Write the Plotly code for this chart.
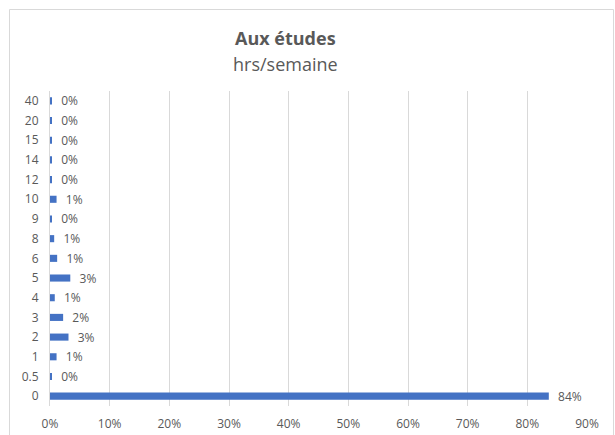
import plotly.graph_objects as go

# Hours per week spent on studies and share of respondents
hours = ["0", "0.5", "1", "2", "3", "4", "5", "6", "8", "9", "10", "12", "14", "15", "20", "40"]
share = [0.836, 0.002, 0.011, 0.031, 0.022, 0.008, 0.034, 0.012, 0.007, 0.002, 0.011, 0.002, 0.002, 0.002, 0.002, 0.002]

x_ticks = [i / 10 for i in range(10)]
x_tick_text = [f"{i * 10}%" for i in range(10)]

W, H = 615, 435
ML, MR, MT, MB = 50, 28, 91, 29
PW, PH = W - ML - MR, H - MT - MB


def px_x(p):
    return (p - ML) / PW


def px_y(p):
    return (H - MB - p) / PH


fig = go.Figure(
    go.Bar(
        x=share,
        y=hours,
        orientation="h",
        marker=dict(color="#4472C4", line=dict(width=0)),
        text=share,
        texttemplate="\u00a0\u00a0%{x:.0%}",
        textposition="outside",
        constraintext="none",
        textfont=dict(size=12, color="#595959"),
        cliponaxis=False,
    )
)

fig.update_layout(
    width=W,
    height=H,
    margin=dict(l=ML, r=MR, t=MT, b=MB, autoexpand=False),
    paper_bgcolor="white",
    plot_bgcolor="white",
    font=dict(family="Open Sans, Liberation Sans, sans-serif", color="#595959", size=12),
    bargap=0.64,
    showlegend=False,
    uniformtext=dict(minsize=12, mode="show"),
    xaxis=dict(
        range=[0, 0.9],
        tickvals=x_ticks,
        ticktext=x_tick_text,
        showgrid=True,
        gridcolor="#d9d9d9",
        gridwidth=1,
        zeroline=False,
        showline=False,
        ticks="",
        ticklabelstandoff=9,
        automargin=False,
        tickfont=dict(size=12, color="#595959"),
        fixedrange=True,
    ),
    yaxis=dict(
        type="category",
        categoryorder="array",
        categoryarray=hours,
        showgrid=False,
        zeroline=False,
        showline=True,
        linecolor="#d9d9d9",
        linewidth=1,
        ticks="",
        ticklabelstandoff=8,
        automargin=False,
        tickfont=dict(size=12, color="#595959"),
        fixedrange=True,
    ),
    shapes=[
        dict(
            type="rect",
            xref="paper",
            yref="paper",
            x0=px_x(9.5),
            x1=px_x(613.5),
            y0=px_y(440),
            y1=px_y(9.5),
            line=dict(color="#d9d9d9", width=1),
            fillcolor="rgba(0,0,0,0)",
            layer="below",
        )
    ],
    annotations=[
        dict(
            text="<b>Aux études</b>",
            xref="paper",
            yref="paper",
            x=px_x(285),
            y=px_y(38),
            xanchor="center",
            yanchor="middle",
            showarrow=False,
            font=dict(size=18, color="#595959"),
        ),
        dict(
            text="hrs/semaine",
            xref="paper",
            yref="paper",
            x=px_x(285),
            y=px_y(64),
            xanchor="center",
            yanchor="middle",
            showarrow=False,
            font=dict(size=18, color="#595959"),
        ),
    ],
)

fig.write_html("out.html")
